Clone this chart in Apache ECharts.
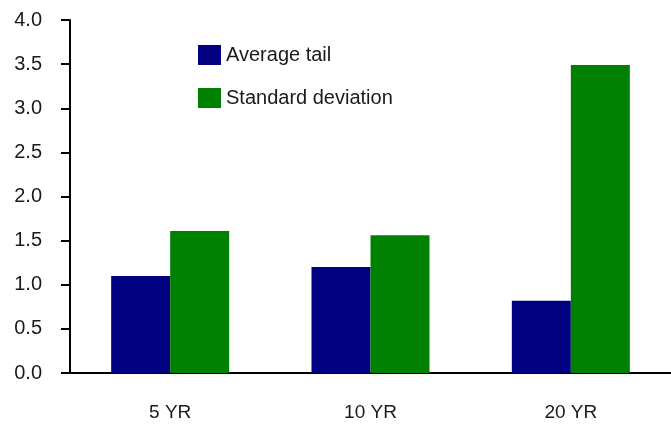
<!DOCTYPE html>
<html>
<head>
<meta charset="utf-8">
<script src="https://cdn.jsdelivr.net/npm/echarts@6/dist/echarts.min.js"></script>
<style>html,body{margin:0;padding:0;background:#fff}#c{width:671px;height:425px}</style>
</head>
<body>
<div id="c"></div>
<script>
var categories = ['5 YR', '10 YR', '20 YR'];
var averageTail = [1.10, 1.20, 0.82];
var standardDeviation = [1.61, 1.56, 3.49];
var yTicks = { min: 0, max: 4, interval: 0.5 };

var chart = echarts.init(document.getElementById('c'), null, { renderer: 'canvas' });
var font = 'Liberation Sans, Arial, sans-serif';
chart.setOption({
  animation: false,
  backgroundColor: '#fff',
  grid: { left: 70, right: -8, top: 20, bottom: 52, containLabel: false },
  legend: {
    orient: 'vertical', left: 193, top: 40,
    itemWidth: 23, itemHeight: 20, itemGap: 23,
    icon: 'rect',
    textStyle: { fontFamily: font, fontSize: 20, color: '#1a1a1a' },
    data: ['Average tail', 'Standard deviation']
  },
  xAxis: {
    type: 'category', data: categories,
    axisLine: { lineStyle: { color: '#000', width: 2 } },
    axisTick: { show: false },
    axisLabel: { margin: 30, fontFamily: font, fontSize: 19, color: '#1a1a1a' }
  },
  yAxis: {
    type: 'value', min: yTicks.min, max: yTicks.max, interval: yTicks.interval,
    axisLine: { show: true, lineStyle: { color: '#000', width: 2 } },
    axisTick: { show: true, length: 9, lineStyle: { color: '#000', width: 2 } },
    splitLine: { show: false },
    axisLabel: { margin: 28, fontFamily: font, fontSize: 20, color: '#1a1a1a',
      formatter: function (v) { return v.toFixed(1); } }
  },
  series: [
    { name: 'Average tail', type: 'bar', data: averageTail, barWidth: 59, barGap: '0%',
      itemStyle: { color: '#000080' } },
    { name: 'Standard deviation', type: 'bar', data: standardDeviation, barWidth: 59,
      itemStyle: { color: '#008000' } }
  ]
});
</script>
</body>
</html>
